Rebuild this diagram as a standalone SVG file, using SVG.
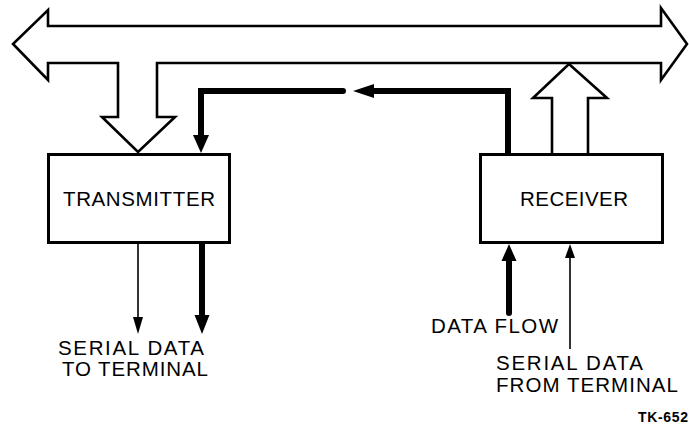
<svg xmlns="http://www.w3.org/2000/svg" width="689" height="434" viewBox="0 0 689 434">
<style>
.bg{fill:#ffffff}
.outline{fill:#ffffff;stroke:#000;stroke-width:2.6;stroke-linejoin:miter}
.box{fill:#ffffff;stroke:#000;stroke-width:3}
.thick{fill:none;stroke:#000;stroke-width:6;stroke-linejoin:miter}
.rnd{stroke-linecap:round}
.thin{fill:none;stroke:#000;stroke-width:1.6}
.head{fill:#000;stroke:none}
.lbl{font-family:"Liberation Sans",Arial,sans-serif;font-size:20.5px;fill:#000}
.tk{font-family:"Liberation Sans",Arial,sans-serif;font-size:14px;font-weight:bold;fill:#000}
</style>
<rect class="bg" x="0" y="0" width="689" height="434"/>
<g id="bus">
<path class="outline" d="M48,26 L661,26 L661,8 L687,44 L661,80 L661,63 L157,63 L157,117 L175,117 L138,152 L102,117 L118,117 L118,63 L48,63 L48,80 L13,44 L48,10 Z"/>
</g>
<g id="receiver-bus-arrow">
<path class="outline" d="M552,154 L552,98 L533,98 L569,64 L607,98 L588,98 L588,154"/>
</g>
<g id="transmitter">
<rect class="box" x="48.5" y="154.5" width="181" height="88"/>
<text class="lbl" x="63" y="206" textLength="152" lengthAdjust="spacing">TRANSMITTER</text>
</g>
<g id="receiver">
<rect class="box" x="480.5" y="154.5" width="182" height="88"/>
<text class="lbl" x="520" y="206" textLength="108" lengthAdjust="spacing">RECEIVER</text>
</g>
<g id="connectors">
<path class="thick rnd" d="M343,91 L201,91 L201,137"/>
<polygon class="head" points="193,135 209,135 201,153"/>
<path class="thick rnd" d="M508,153 L508,91 L372,91"/>
<polygon class="head" points="374,84 374,98 353,91"/>
<path class="thin" d="M138,243 L138,320"/>
<polygon class="head" points="133,317 143,317 138,334"/>
<path class="thick" d="M202,243 L202,318"/>
<polygon class="head" points="194.5,315 209.5,315 202,334"/>
<path class="thick rnd" d="M509,313 L509,258"/>
<polygon class="head" points="501.5,261 516.5,261 509,244"/>
<path class="thin" d="M570,349 L570,255"/>
<polygon class="head" points="565,258 575,258 570,244"/>
</g>
<g id="labels">
<text class="lbl" x="58" y="355" textLength="146" lengthAdjust="spacing">SERIAL DATA</text>
<text class="lbl" x="62" y="376" textLength="146" lengthAdjust="spacing">TO TERMINAL</text>
<text class="lbl" x="431" y="333" textLength="127" lengthAdjust="spacing">DATA FLOW</text>
<text class="lbl" x="496" y="370" textLength="147" lengthAdjust="spacing">SERIAL DATA</text>
<text class="lbl" x="496" y="392" textLength="182" lengthAdjust="spacing">FROM TERMINAL</text>
<text class="tk" x="638" y="422" textLength="50" lengthAdjust="spacing">TK-652</text>
</g>
</svg>
